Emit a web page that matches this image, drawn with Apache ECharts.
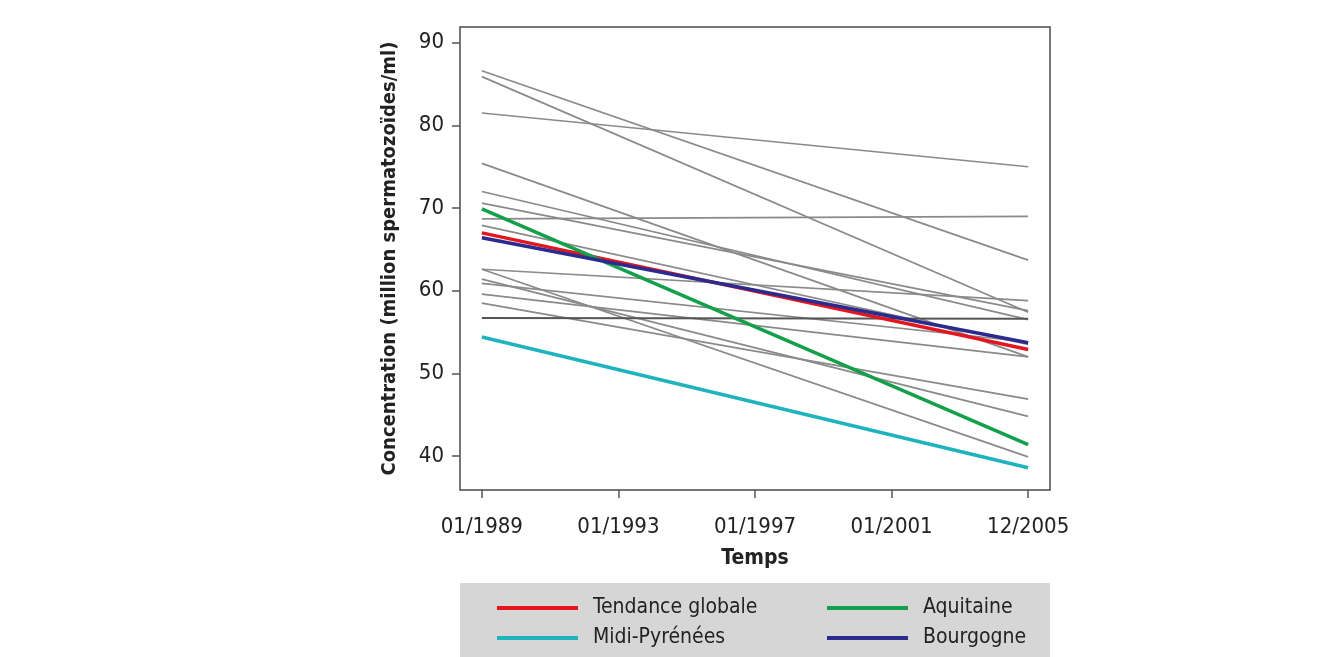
<!DOCTYPE html>
<html>
<head>
<meta charset="utf-8">
<script src="https://cdn.jsdelivr.net/npm/echarts@6/dist/echarts.min.js"></script>
<style>
  html, body { margin: 0; padding: 0; background: #ffffff; }
  #chart { width: 1330px; height: 657px; }
</style>
</head>
<body>
<div id="chart"></div>
<script>
// ---- data ----
const timeIndex = [0, 16];                 // start / end of study period (axis units)
const xTickValues = [0, 4, 8, 12, 16];
const xTickLabels = ['01/1989', '01/1993', '01/1997', '01/2001', '12/2005'];
const yTickValues = [40, 50, 60, 70, 80, 90];

// other regions (grey): value at start, value at end
const regionStart = [86.6, 85.9, 81.5, 75.4, 72.0, 70.6, 68.7, 67.9, 62.6, 62.6, 61.4, 60.9, 59.6, 58.5];
const regionEnd   = [63.7, 57.4, 75.0, 52.0, 56.5, 57.6, 69.0, 53.5, 39.9, 58.8, 44.8, 53.8, 52.0, 46.9];
const flatRegion  = [56.7, 56.6];

const globalTrend  = [67.0, 52.9];
const aquitaine    = [69.9, 41.4];
const midiPyrenees = [54.4, 38.6];
const bourgogne    = [66.4, 53.7];

const legendNames = ['Tendance globale', 'Aquitaine', 'Midi-Pyrénées', 'Bourgogne'];

const FONT = "'Liberation Sans Narrow', 'DejaVu Sans Condensed', 'Arial Narrow', sans-serif";

function pairs(vals) { return timeIndex.map((t, i) => [t, vals[i]]); }

const series = [];
regionStart.forEach((s, i) => {
  series.push({
    name: 'r' + i, type: 'line', data: pairs([s, regionEnd[i]]),
    showSymbol: false, silent: true,
    lineStyle: { color: '#8a8a8a', width: 1.7 }, z: 2
  });
});
series.push({
  name: 'flat', type: 'line', data: pairs(flatRegion), showSymbol: false, silent: true,
  lineStyle: { color: '#555555', width: 2 }, z: 2
});
const colored = [
  ['Tendance globale', globalTrend, '#e3161f'],
  ['Midi-Pyrénées', midiPyrenees, '#1fb3bd'],
  ['Aquitaine', aquitaine, '#14a04a'],
  ['Bourgogne', bourgogne, '#2b2b8f']
];
colored.forEach(([n, d, c], i) => {
  series.push({
    name: n, type: 'line', data: pairs(d), showSymbol: false, silent: true,
    lineStyle: { color: c, width: 3.5 }, itemStyle: { color: c }, z: 3 + i
  });
});

const legendLeft = [497, 827, 497, 827];
const legendTop = [597, 597, 627, 627];
const legends = legendNames.map((n, i) => ({
  data: [n], left: legendLeft[i], top: legendTop[i], padding: 0,
  itemWidth: 81, itemHeight: 4, icon: 'rect', selectedMode: false,
  textStyle: { fontFamily: FONT, fontSize: 21, color: '#222', padding: [0, 0, 0, 10], lineHeight: 22 }
}));

const chart = echarts.init(document.getElementById('chart'), null, { renderer: 'canvas' });
chart.setOption({
  animation: false,
  backgroundColor: '#ffffff',
  grid: { left: 460, right: 280, top: 27, bottom: 167, show: true, borderColor: '#4a4a4a', borderWidth: 1.5, backgroundColor: 'transparent' },
  graphic: [{
    type: 'rect', left: 460, top: 583, z: -10,
    shape: { width: 590, height: 80 },
    style: { fill: '#d6d6d6' }
  }],
  legend: legends,
  xAxis: {
    type: 'value', min: -0.64, max: 16.64,
    name: 'Temps', nameLocation: 'middle', nameGap: 58,
    nameTextStyle: { fontFamily: FONT, fontSize: 21, fontWeight: 'bold', color: '#222' },
    axisLine: { show: false, onZero: false },
    axisTick: { show: true, length: 8, customValues: xTickValues, lineStyle: { color: '#555', width: 1.5 } },
    axisLabel: {
      customValues: xTickValues, margin: 26, fontFamily: FONT, fontSize: 22, color: '#222',
      formatter: v => xTickLabels[xTickValues.indexOf(v)] || ''
    },
    splitLine: { show: false }
  },
  yAxis: {
    type: 'value', min: 35.9, max: 91.9,
    name: 'Concentration (million spermatozoïdes/ml)', nameLocation: 'middle', nameGap: 60, nameRotate: 90,
    nameTextStyle: { fontFamily: FONT, fontSize: 20, fontWeight: 'bold', color: '#222' },
    axisLine: { show: false, onZero: false },
    axisTick: { show: true, length: 8, customValues: yTickValues, lineStyle: { color: '#555', width: 1.5 } },
    axisLabel: { customValues: yTickValues, margin: 16, fontFamily: FONT, fontSize: 22, color: '#222' },
    splitLine: { show: false }
  },
  series: series
});
</script>
</body>
</html>
